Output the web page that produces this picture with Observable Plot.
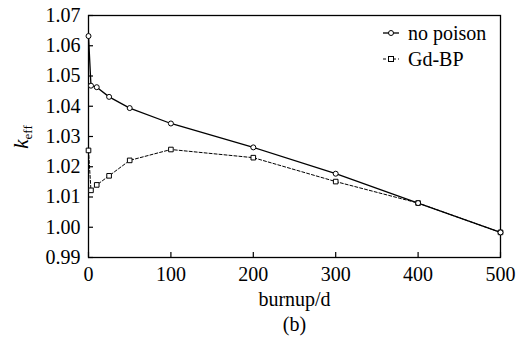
<!DOCTYPE html>
<html>
<head>
<meta charset="utf-8">
<script src="https://cdn.jsdelivr.net/npm/d3@7"></script>
<script src="https://cdn.jsdelivr.net/npm/@observablehq/plot@0.6"></script>
</head>
<body style="margin:0">
<div id="chart"></div>
<script>
const burnup = [0, 3, 10, 25, 50, 100, 200, 300, 400, 500];
const noPoison = [1.0632, 1.0468, 1.0463, 1.0431, 1.0394, 1.0343, 1.0264, 1.0177, 1.0080, 0.9983];
const gdBP = [1.0254, 1.0122, 1.0140, 1.0170, 1.0221, 1.0257, 1.0230, 1.0151, 1.0080, 0.9983];
const seriesNames = ["no poison", "Gd-BP"];
const xTicks = [0, 100, 200, 300, 400, 500];
const yTicks = [0.99, 1.00, 1.01, 1.02, 1.03, 1.04, 1.05, 1.06, 1.07];
const xLabel = "burnup/d";
const caption = "(b)";

const dataA = burnup.map((b, i) => ({x: b, y: noPoison[i]}));
const dataB = burnup.map((b, i) => ({x: b, y: gdBP[i]}));

const font = "Liberation Serif";

const chart = Plot.plot({
  width: 517,
  height: 343,
  marginLeft: 88,
  marginRight: 17,
  marginTop: 15,
  marginBottom: 86,
  style: {fontFamily: font, fontSize: "20px"},
  x: {domain: [0, 500]},
  y: {domain: [0.99, 1.07]},
  marks: [
    Plot.axisY({ticks: yTicks, tickSize: 5, dx: 5, tickFormat: () => "", label: null, strokeWidth: 1.2}),
    Plot.axisY({ticks: yTicks, tickSize: 0, tickPadding: 8, tickFormat: d3.format(".2f"), label: null, fontSize: 20, fontFamily: font}),
    Plot.axisX({ticks: xTicks, tickSize: 5, dy: -5, tickFormat: () => "", label: null, strokeWidth: 1.2}),
    Plot.axisX({ticks: xTicks, tickSize: 0, tickPadding: 9, tickFormat: d3.format("d"), label: null, fontSize: 20, fontFamily: font}),
    Plot.frame({stroke: "#000", strokeWidth: 1.3}),
    Plot.line(dataB, {x: "x", y: "y", stroke: "#000", strokeWidth: 1, strokeDasharray: "3,2"}),
    Plot.line(dataA, {x: "x", y: "y", stroke: "#000", strokeWidth: 1.3}),
    Plot.dot(dataB, {x: "x", y: "y", symbol: "square", r: 2.6, fill: "#fff", stroke: "#000", strokeWidth: 1}),
    Plot.dot(dataA, {x: "x", y: "y", symbol: "circle", r: 2.5, fill: "#fff", stroke: "#000", strokeWidth: 1}),
    Plot.text([xLabel], {frameAnchor: "bottom", dy: 48, fontSize: 20, fontFamily: font, fill: "#000"}),
    Plot.text([caption], {frameAnchor: "bottom", dy: 73, fontSize: 20, fontFamily: font, fill: "#000"})
  ]
});

document.getElementById("chart").appendChild(chart);

const svg = d3.select(chart).attr("font-family", font);
// y label k_eff
const yl = svg.append("text")
  .attr("transform", "translate(28,137) rotate(-90)")
  .attr("text-anchor", "middle")
  .attr("font-size", 21)
  .attr("fill", "#000");
yl.append("tspan").attr("font-style", "italic").text("k");
yl.append("tspan").attr("font-size", 13).attr("dy", 4).text("eff");

// legend
const legend = svg.append("g").attr("fill", "#000");
const rows = [
  {name: seriesNames[0], y: 33, dash: null, sym: "circle"},
  {name: seriesNames[1], y: 59, dash: "3,2", sym: "square"}
];
rows.forEach(r => {
  legend.append("line").attr("x1", 383).attr("x2", 399).attr("y1", r.y).attr("y2", r.y)
    .attr("stroke", "#000").attr("stroke-width", r.dash ? 1 : 1.3).attr("stroke-dasharray", r.dash);
  if (r.sym === "circle") {
    legend.append("circle").attr("cx", 391).attr("cy", r.y).attr("r", 2.5)
      .attr("fill", "#fff").attr("stroke", "#000");
  } else {
    legend.append("rect").attr("x", 388.5).attr("y", r.y - 2.5).attr("width", 5).attr("height", 5)
      .attr("fill", "#fff").attr("stroke", "#000");
  }
  legend.append("text").attr("x", 408).attr("y", r.y).attr("dy", "0.35em")
    .attr("font-size", 20).attr("text-anchor", "start").text(r.name);
});

// force the serif face on every text node with inline !important
svg.selectAll("text, tspan").each(function() {
  this.style.setProperty("font-family", "'Liberation Serif'", "important");
});
</script>
</body>
</html>
